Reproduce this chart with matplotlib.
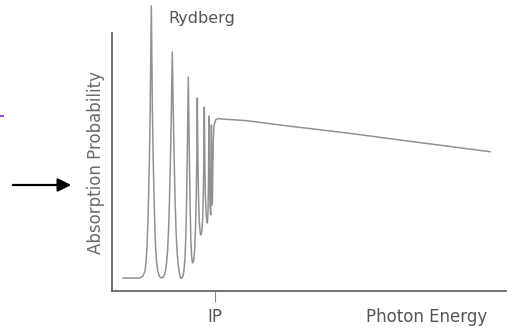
import matplotlib
matplotlib.use("Agg")
import matplotlib.pyplot as plt
from matplotlib.lines import Line2D

energy = [11, 28, 31, 33, 34, 35, 35.8, 36.6, 37.4, 38.2, 39.3, 40.4, 41.2, 42, 42.8, 43.6, 44.6, 45.8, 47.5,
          49.5, 51.5, 53.3, 54.6, 55.6, 56.6, 57.5, 58.3, 59.2, 60.3, 61.4, 62.3, 63.1, 64, 65, 66, 67.3, 68.5,
          69.5, 71, 72, 73, 73.8, 74.5, 75.2, 76.3, 77.4, 78.1, 78.8, 79.6,
          80.4, 81.5, 82.5, 83.4, 84.2, 84.8, 85.3, 85.9, 86.5, 87.3, 88.2,
          88.8, 89.7, 90.6, 91.3, 91.8, 92.3, 92.8, 93.4, 94.2, 94.9,
          95.4, 96, 96.5, 97, 97.5, 98.1,
          98.7, 99.1, 99.4, 99.7, 100, 100.4, 100.8, 101.3, 102, 103.5,
          106, 110, 135, 168, 235, 301, 378]
absorption = [13, 13, 15, 20, 29, 43, 66, 96, 131, 181, 285, 181, 131, 96, 66, 43, 29, 20, 14.5,
              13, 14, 19, 28, 41, 61, 91, 126, 171, 239, 171, 126, 91, 61, 41, 28, 18, 13,
              12.5, 15, 21, 33, 53, 86, 131, 214, 131, 86, 53, 35,
              28, 30, 39, 59, 91, 131, 193, 131, 96, 69, 58,
              56, 59, 71, 96, 131, 184, 131, 96, 76, 69,
              68, 79, 111, 175, 111, 83,
              76, 111, 166, 106, 86, 91, 121, 151, 165, 171,
              172.5, 172, 170.3, 166, 158, 149.3, 139.3]

ip_energy = 103
ip_label = "IP"
x_label = "Photon Energy"
y_label = "Absorption Probability"
series_label = "Rydberg"

W, H = 508, 334
fig = plt.figure(figsize=(W / 100, H / 100), dpi=100)
ax = fig.add_axes([112 / W, (H - 291) / H, 394 / W, 291 / H])

ax.plot(energy, absorption, color="#919191", lw=1.1, solid_joinstyle="round")

ax.set_xlim(0, 394)
ax.set_ylim(0, 291)
for s in ("top", "right"):
    ax.spines[s].set_visible(False)
for s in ("left", "bottom"):
    ax.spines[s].set_color("#5a5a5a")
    ax.spines[s].set_linewidth(1.2)
ax.spines["left"].set_bounds(0, 258)

ax.set_yticks([])
ax.set_xticks([ip_energy])
ax.set_xticklabels([ip_label])
ax.tick_params(axis="x", direction="out", length=8, width=0.8, color="#8a8a8a",
               labelcolor="#555555", labelsize=12, pad=4)

ax.text(90, 272, series_label, ha="center", va="center", fontsize=11.5, color="#555555")
ax.text(315, -26, x_label, ha="center", va="center", fontsize=12, color="#555555")
ax.text(-16 / 394, 129 / 291, y_label, transform=ax.transAxes, rotation=90,
        ha="center", va="center", fontsize=12, color="#6a6a6a")

# Pointer arrow and small mark on the left
ax.annotate("", xy=(74, H - 185), xytext=(10, H - 185),
            xycoords="figure pixels", textcoords="figure pixels",
            arrowprops=dict(arrowstyle="-|>", color="black", lw=1.6, mutation_scale=20))
fig.add_artist(Line2D([0 / W, 3 / W], [(H - 116) / H, (H - 116) / H],
                      transform=fig.transFigure, color="#8a4fd8", lw=1.5))

fig.savefig("out.png", dpi=100)
